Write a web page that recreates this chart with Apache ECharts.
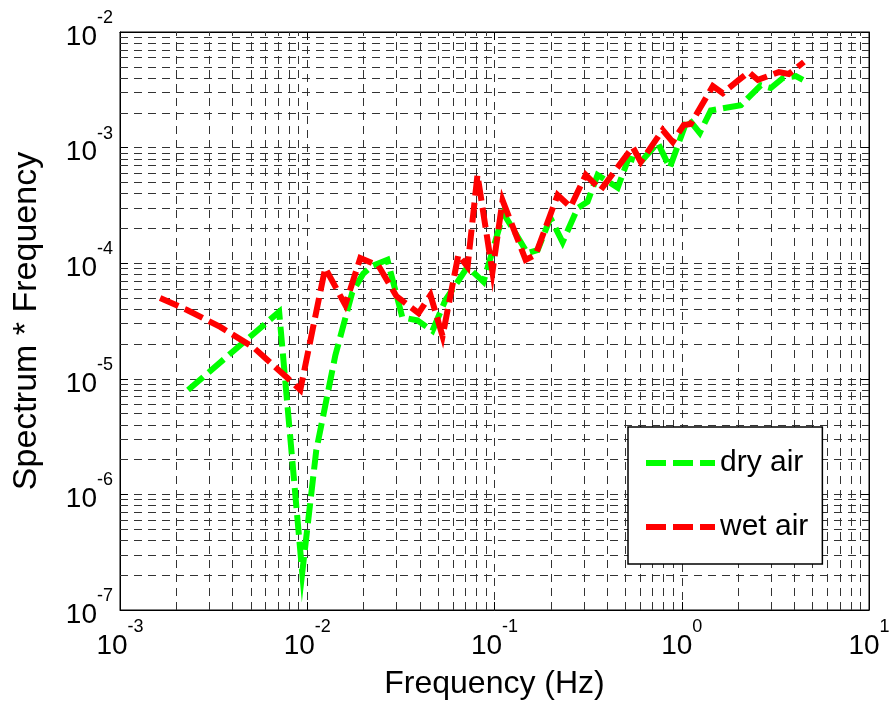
<!DOCTYPE html>
<html>
<head>
<meta charset="utf-8">
<script src="https://cdn.jsdelivr.net/npm/echarts@6/dist/echarts.min.js"></script>
<style>
html,body{margin:0;padding:0;background:#fff;}
#chart{width:895px;height:704px;}
</style>
</head>
<body>
<div id="chart"></div>
<script>
// ---- data ----
const freqDry = [0.00231, 0.00708, 0.0094, 0.01117, 0.01413, 0.0174, 0.0199, 0.0223, 0.0268, 0.0322, 0.0387, 0.0466, 0.0547, 0.0718, 0.0873, 0.1117, 0.150, 0.170, 0.199, 0.231, 0.278, 0.314, 0.355, 0.455, 0.52, 0.604, 0.745, 0.863, 1.077, 1.248, 1.43, 2.07, 2.64, 2.99, 3.47, 4.07, 4.44];
const valDry  = [8.0e-6, 3.8e-5, 2.1e-7, 2.4e-6, 1.6e-5, 5.6e-5, 8.1e-5, 9.5e-5, 1.07e-4, 3.4e-5, 3.2e-5, 2.6e-5, 4.8e-5, 9.3e-5, 6.9e-5, 2.7e-4, 1.22e-4, 1.3e-4, 2.46e-4, 1.52e-4, 3.0e-4, 3.4e-4, 5.8e-4, 4.5e-4, 8.1e-4, 7.5e-4, 1.1e-3, 6.7e-4, 1.8e-3, 1.34e-3, 2.1e-3, 2.33e-3, 3.46e-3, 3.28e-3, 4.0e-3, 4.15e-3, 3.85e-3];
const freqWet = [0.001637, 0.00228, 0.00343, 0.00514, 0.00782, 0.00918, 0.01247, 0.01596, 0.0192, 0.0240, 0.0299, 0.0393, 0.0455, 0.0528, 0.0641, 0.0718, 0.0811, 0.0975, 0.1104, 0.1466, 0.1656, 0.2173, 0.2547, 0.307, 0.369, 0.547, 0.604, 0.791, 0.895, 1.025, 1.117, 1.466, 1.656, 2.018, 2.28, 2.55, 3.30, 3.73, 4.49];
const valWet  = [5.0e-5, 3.94e-5, 2.81e-5, 1.88e-5, 1.02e-5, 8.0e-6, 9.1e-5, 4.35e-5, 1.11e-4, 9.5e-5, 5.2e-5, 3.7e-5, 5.3e-5, 2.34e-5, 1.18e-4, 9.3e-5, 5.8e-4, 8.4e-5, 3.5e-4, 1.07e-4, 1.18e-4, 3.89e-4, 3.06e-4, 5.8e-4, 4.3e-4, 1.01e-3, 7.5e-4, 1.42e-3, 1.12e-3, 1.57e-3, 1.6e-3, 3.41e-3, 2.96e-3, 3.85e-3, 4.5e-3, 3.85e-3, 4.5e-3, 4.33e-3, 5.5e-3];
const seriesNames = ['dry air', 'wet air'];
const xDecades = [-3, -2, -1, 0, 1];
const yDecades = [-7, -6, -5, -4, -3, -2];
const minorMult = [2, 3, 4, 5, 6, 7, 8, 9];

const xMin = Math.pow(10, xDecades[0]), xMax = Math.pow(10, xDecades[xDecades.length - 1]);
const yMin = Math.pow(10, yDecades[0]), yMax = Math.pow(10, yDecades[yDecades.length - 1]);

// minor grid positions (values, placed by the axes)
const xMinor = [];
for (let i = 0; i < xDecades.length - 1; i++) minorMult.forEach(m => xMinor.push(m * Math.pow(10, xDecades[i])));
const yMinor = [];
for (let i = 0; i < yDecades.length - 1; i++) minorMult.forEach(m => yMinor.push(m * Math.pow(10, yDecades[i])));

const FONT = "'Liberation Sans', Arial, Helvetica, sans-serif";
const gridDash = [8, 6];
const gridColor = '#333';

function expLabel(v) {
  const e = Math.round(Math.log10(v));
  return '{b|10}{s|' + e + '}';
}
const rich = {
  b: { fontFamily: FONT, fontSize: 28, lineHeight: 28, color: '#000', padding: [14, 0, 0, 0], verticalAlign: 'top' },
  s: { fontFamily: FONT, fontSize: 18, lineHeight: 18, color: '#000', verticalAlign: 'top' }
};

const minorLines = xMinor.map(v => ({ coords: [[v, yMin], [v, yMax]] }))
  .concat(yMinor.map(v => ({ coords: [[xMin, v], [xMax, v]] })));

const chart = echarts.init(document.getElementById('chart'), null, { renderer: 'canvas' });
const option = {
  animation: false,
  backgroundColor: '#fff',
  grid: { left: 120, right: 26, top: 32, bottom: 94, containLabel: false, outerBoundsMode: 'none',
          show: true, borderColor: '#000', borderWidth: 1, backgroundColor: 'transparent' },
  legend: {
    data: seriesNames,
    orient: 'vertical',
    left: 628, top: 427,
    padding: [21, 14, 22, 15],
    itemWidth: 69, itemHeight: 6, itemGap: 34, itemTextGap: 8,
    backgroundColor: '#fff', borderColor: '#000', borderWidth: 1.5,
    itemStyle: { opacity: 0 },
    lineStyle: { width: 6, type: [20, 7], cap: 'butt' },
    textStyle: { fontFamily: FONT, fontSize: 30, color: '#000', lineHeight: 30 }
  },
  xAxis: [{
    type: 'log', logBase: 10, min: xMin, max: xMax, splitNumber: 4,
    name: 'Frequency (Hz)', nameLocation: 'middle', nameGap: 58, nameMoveOverlap: false,
    nameTextStyle: { fontFamily: FONT, fontSize: 32, color: '#000' },
    axisLine: { show: true, lineStyle: { color: '#000', width: 1 } },
    axisTick: { show: true, inside: true, length: 8, lineStyle: { color: '#000' } },
    axisLabel: { margin: 8, formatter: expLabel, rich: rich },
    splitLine: { show: true, lineStyle: { type: gridDash, color: gridColor, width: 1 } }
  }, {
    type: 'log', logBase: 10, min: xMin, max: xMax, splitNumber: 4, position: 'top',
    axisLine: { show: true, lineStyle: { color: '#000' } },
    axisTick: { show: true, inside: true, length: 8, lineStyle: { color: '#000' } },
    axisLabel: { show: false }, splitLine: { show: false }
  }],
  yAxis: [{
    type: 'log', logBase: 10, min: yMin, max: yMax, splitNumber: 5,
    name: 'Spectrum * Frequency', nameLocation: 'middle', nameGap: 76, nameMoveOverlap: false,
    nameTextStyle: { fontFamily: FONT, fontSize: 34, color: '#000' },
    axisLine: { show: true, lineStyle: { color: '#000', width: 1 } },
    axisTick: { show: true, inside: true, length: 8, lineStyle: { color: '#000' } },
    axisLabel: { margin: 7, formatter: expLabel, rich: rich, padding: [0, 0, 18, 0] },
    splitLine: { show: true, lineStyle: { type: gridDash, color: gridColor, width: 1 } }
  }, {
    type: 'log', logBase: 10, min: yMin, max: yMax, splitNumber: 5, position: 'right',
    axisLine: { show: true, lineStyle: { color: '#000' } },
    axisTick: { show: true, inside: true, length: 8, lineStyle: { color: '#000' } },
    axisLabel: { show: false }, splitLine: { show: false }
  }],
  series: [
    {
      name: 'minor grid', type: 'lines', coordinateSystem: 'cartesian2d',
      xAxisIndex: 0, yAxisIndex: 0, silent: true, z: 1,
      lineStyle: { type: gridDash, color: gridColor, width: 1, opacity: 1 },
      data: minorLines
    },
    {
      name: seriesNames[0], type: 'line', xAxisIndex: 0, yAxisIndex: 0,
      data: freqDry.map((f, i) => [f, valDry[i]]),
      symbol: 'none', z: 3,
      lineStyle: { color: '#00ff00', width: 6, type: [20, 7], cap: 'butt', join: 'miter' },
      itemStyle: { color: '#00ff00' }
    },
    {
      name: seriesNames[1], type: 'line', xAxisIndex: 0, yAxisIndex: 0,
      data: freqWet.map((f, i) => [f, valWet[i]]),
      symbol: 'none', z: 4,
      lineStyle: { color: '#ff0000', width: 6, type: [20, 7], cap: 'butt', join: 'miter' },
      itemStyle: { color: '#ff0000' }
    }
  ]
};
chart.setOption(option);
</script>
</body>
</html>
